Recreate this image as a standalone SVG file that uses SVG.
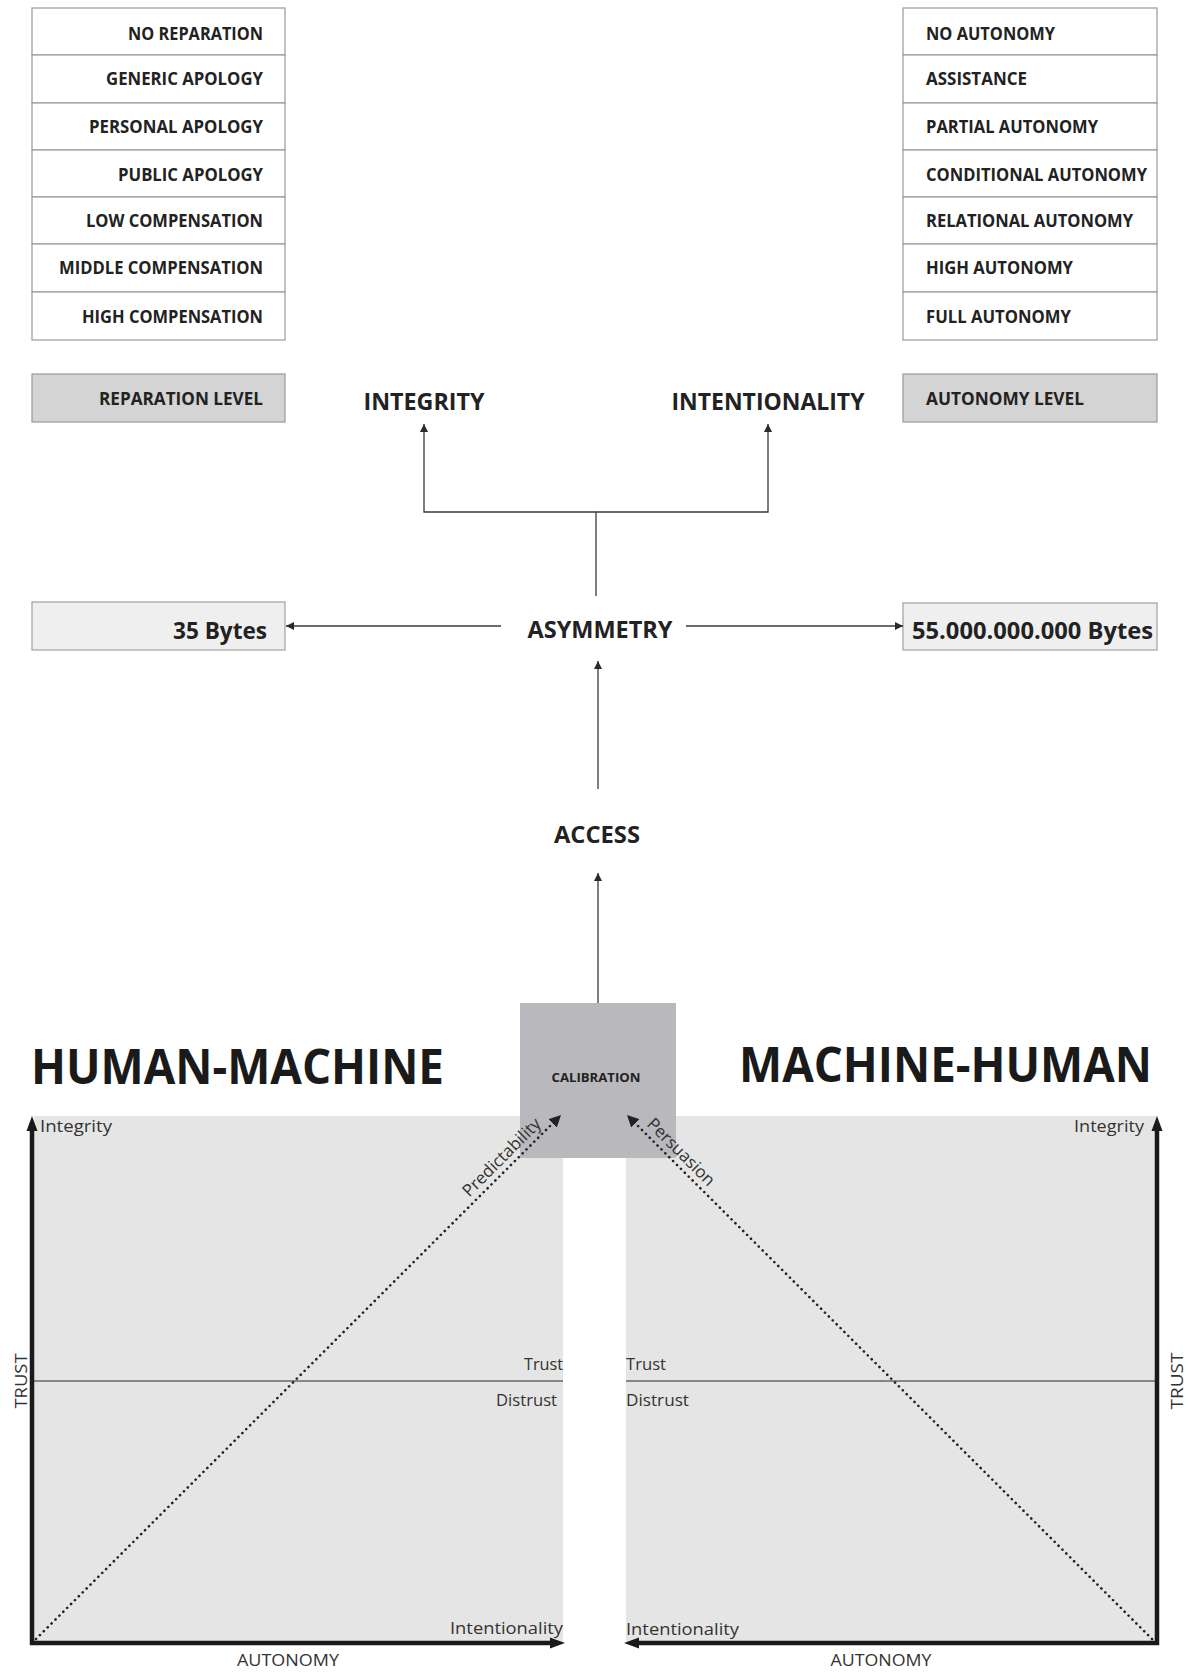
<svg xmlns="http://www.w3.org/2000/svg" width="1192" height="1679" viewBox="0 0 1192 1679">
  <defs>
    <marker id="arr" viewBox="0 0 10 10" refX="10" refY="5" markerWidth="8" markerHeight="8" markerUnits="userSpaceOnUse" orient="auto">
      <path d="M0,0 L10,5 L0,10 z" fill="#2a2a2a"/>
    </marker>
    <marker id="arrDot" viewBox="0 0 10 10" refX="10" refY="5" markerWidth="12" markerHeight="12" markerUnits="userSpaceOnUse" orient="auto">
      <path d="M0,0 L10,5 L0,10 z" fill="#222"/>
    </marker>
  </defs>
  <style>
    text { font-family: "Open Sans", "Liberation Sans", sans-serif; fill: #222; }
    .cell { fill: #ffffff; stroke: #9a9a9a; stroke-width: 1.2; }
    .head { fill: #d4d4d4; stroke: #9a9a9a; stroke-width: 1.2; }
    .bytes { fill: #efefef; stroke: #a0a0a0; stroke-width: 1.2; }
    .row { font-size: 17px; font-weight: 700; }
    .title { font-size: 23px; font-weight: 700; }
    .big { font-size: 49px; font-weight: 700; fill: #1a1a1a; }
    .lbl { font-size: 17px; font-weight: 400; fill: #333; }
    .conn { stroke: #3a3a3a; stroke-width: 1.3; fill: none; }
    .axis { stroke: #1a1a1a; stroke-width: 4.5; fill: none; }
    .dots { stroke: #222; stroke-width: 2.6; stroke-dasharray: 0.1 5.4; stroke-linecap: round; fill: none; }
    .split { stroke: #666; stroke-width: 1.5; }
    .plane { fill: #e5e5e5; }
  </style>

  <!-- reparation scale -->
  <g id="reparation-scale">
    <rect class="cell" x="32" y="8" width="253" height="47"/>
    <rect class="cell" x="32" y="55" width="253" height="48"/>
    <rect class="cell" x="32" y="103" width="253" height="47"/>
    <rect class="cell" x="32" y="150" width="253" height="47"/>
    <rect class="cell" x="32" y="197" width="253" height="47"/>
    <rect class="cell" x="32" y="244" width="253" height="48"/>
    <rect class="cell" x="32" y="292" width="253" height="48"/>
    <text class="row" x="263" y="40" text-anchor="end" textLength="135" lengthAdjust="spacingAndGlyphs">NO REPARATION</text>
    <text class="row" x="263" y="85" text-anchor="end" textLength="157" lengthAdjust="spacingAndGlyphs">GENERIC APOLOGY</text>
    <text class="row" x="263" y="133" text-anchor="end" textLength="174" lengthAdjust="spacingAndGlyphs">PERSONAL APOLOGY</text>
    <text class="row" x="263" y="181" text-anchor="end" textLength="145" lengthAdjust="spacingAndGlyphs">PUBLIC APOLOGY</text>
    <text class="row" x="263" y="227" text-anchor="end" textLength="177" lengthAdjust="spacingAndGlyphs">LOW COMPENSATION</text>
    <text class="row" x="263" y="274" text-anchor="end" textLength="204" lengthAdjust="spacingAndGlyphs">MIDDLE COMPENSATION</text>
    <text class="row" x="263" y="323" text-anchor="end" textLength="181" lengthAdjust="spacingAndGlyphs">HIGH COMPENSATION</text>
  </g>
  <g id="reparation-level">
    <rect class="head" x="32" y="374" width="253" height="48"/>
    <text class="row" x="263" y="405" text-anchor="end" textLength="164" lengthAdjust="spacingAndGlyphs">REPARATION LEVEL</text>
  </g>

  <!-- autonomy scale -->
  <g id="autonomy-scale">
    <rect class="cell" x="903" y="8" width="254" height="47"/>
    <rect class="cell" x="903" y="55" width="254" height="48"/>
    <rect class="cell" x="903" y="103" width="254" height="47"/>
    <rect class="cell" x="903" y="150" width="254" height="47"/>
    <rect class="cell" x="903" y="197" width="254" height="47"/>
    <rect class="cell" x="903" y="244" width="254" height="48"/>
    <rect class="cell" x="903" y="292" width="254" height="48"/>
    <text class="row" x="926" y="40" textLength="129" lengthAdjust="spacingAndGlyphs">NO AUTONOMY</text>
    <text class="row" x="926" y="85" textLength="101" lengthAdjust="spacingAndGlyphs">ASSISTANCE</text>
    <text class="row" x="926" y="133" textLength="172" lengthAdjust="spacingAndGlyphs">PARTIAL AUTONOMY</text>
    <text class="row" x="926" y="181" textLength="221" lengthAdjust="spacingAndGlyphs">CONDITIONAL AUTONOMY</text>
    <text class="row" x="926" y="227" textLength="207" lengthAdjust="spacingAndGlyphs">RELATIONAL AUTONOMY</text>
    <text class="row" x="926" y="274" textLength="147" lengthAdjust="spacingAndGlyphs">HIGH AUTONOMY</text>
    <text class="row" x="926" y="323" textLength="145" lengthAdjust="spacingAndGlyphs">FULL AUTONOMY</text>
  </g>
  <g id="autonomy-level">
    <rect class="head" x="903" y="374" width="254" height="48"/>
    <text class="row" x="926" y="405" textLength="158" lengthAdjust="spacingAndGlyphs">AUTONOMY LEVEL</text>
  </g>

  <g id="integrity">
    <text class="title" x="424" y="410" text-anchor="middle" textLength="121" lengthAdjust="spacingAndGlyphs">INTEGRITY</text>
  </g>
  <g id="intentionality">
    <text class="title" x="768" y="410" text-anchor="middle" textLength="193" lengthAdjust="spacingAndGlyphs">INTENTIONALITY</text>
  </g>

  <g id="asymmetry">
    <text class="title" x="600" y="638" text-anchor="middle" textLength="145" lengthAdjust="spacingAndGlyphs">ASYMMETRY</text>
  </g>
  <g id="bytes-human">
    <rect class="bytes" x="32" y="602" width="253" height="48"/>
    <text class="title" x="267" y="639" text-anchor="end" textLength="94" lengthAdjust="spacingAndGlyphs">35 Bytes</text>
  </g>
  <g id="bytes-machine">
    <rect class="bytes" x="903" y="603" width="254" height="47"/>
    <text class="title" x="912" y="639" textLength="241" lengthAdjust="spacingAndGlyphs">55.000.000.000 Bytes</text>
  </g>

  <g id="access">
    <text class="title" x="597" y="843" text-anchor="middle" textLength="86" lengthAdjust="spacingAndGlyphs">ACCESS</text>
  </g>

  <!-- trust planes -->
  <g id="human-machine">
    <text class="big" x="31" y="1084" textLength="413" lengthAdjust="spacingAndGlyphs">HUMAN-MACHINE</text>
    <rect class="plane" x="34" y="1116" width="529" height="526"/>
    <line class="split" x1="34" y1="1381" x2="563" y2="1381"/>
    <text class="lbl" x="40" y="1132" textLength="72" lengthAdjust="spacingAndGlyphs">Integrity</text>
    <text class="lbl" x="563" y="1370" text-anchor="end" textLength="39" lengthAdjust="spacingAndGlyphs">Trust</text>
    <text class="lbl" x="557" y="1406" text-anchor="end" textLength="61" lengthAdjust="spacingAndGlyphs">Distrust</text>
    <text class="lbl" x="563" y="1634" text-anchor="end" textLength="113" lengthAdjust="spacingAndGlyphs">Intentionality</text>
    <text class="lbl" x="288" y="1666" text-anchor="middle" textLength="102" lengthAdjust="spacingAndGlyphs">AUTONOMY</text>
    <text class="lbl" transform="translate(27,1381) rotate(-90)" text-anchor="middle" textLength="55" lengthAdjust="spacingAndGlyphs">TRUST</text>
    <line class="axis" x1="32" y1="1645" x2="32" y2="1129"/>
    <path d="M32,1116 L26.5,1131 L37.5,1131 z" fill="#1a1a1a"/>
    <line class="axis" x1="30" y1="1643" x2="552" y2="1643"/>
    <path d="M565,1643 L550,1637.5 L550,1648.5 z" fill="#1a1a1a"/>
  </g>

  <g id="machine-human">
    <text class="big" x="739" y="1082" textLength="413" lengthAdjust="spacingAndGlyphs">MACHINE-HUMAN</text>
    <rect class="plane" x="626" y="1116" width="531" height="526"/>
    <line class="split" x1="626" y1="1381" x2="1157" y2="1381"/>
    <text class="lbl" x="1144" y="1132" text-anchor="end" textLength="70" lengthAdjust="spacingAndGlyphs">Integrity</text>
    <text class="lbl" x="626" y="1370" textLength="40" lengthAdjust="spacingAndGlyphs">Trust</text>
    <text class="lbl" x="626" y="1406" textLength="63" lengthAdjust="spacingAndGlyphs">Distrust</text>
    <text class="lbl" x="626" y="1635" textLength="113" lengthAdjust="spacingAndGlyphs">Intentionality</text>
    <text class="lbl" x="881" y="1666" text-anchor="middle" textLength="101" lengthAdjust="spacingAndGlyphs">AUTONOMY</text>
    <text class="lbl" transform="translate(1183,1381) rotate(-90)" text-anchor="middle" textLength="57" lengthAdjust="spacingAndGlyphs">TRUST</text>
    <line class="axis" x1="1157" y1="1645" x2="1157" y2="1129"/>
    <path d="M1157,1116 L1151.5,1131 L1162.5,1131 z" fill="#1a1a1a"/>
    <line class="axis" x1="1159" y1="1643" x2="637" y2="1643"/>
    <path d="M624,1643 L639,1637.5 L639,1648.5 z" fill="#1a1a1a"/>
  </g>

  <g id="calibration">
    <rect x="520" y="1003" width="156" height="155" fill="#b9b8bc"/>
    <text x="596" y="1082" text-anchor="middle" font-size="13" font-weight="700" fill="#333" textLength="89" lengthAdjust="spacingAndGlyphs">CALIBRATION</text>
  </g>

  <!-- connectors -->
  <g id="connectors">
    <polyline class="conn" points="596,596 596,512 424,512 424,424" marker-end="url(#arr)"/>
    <polyline class="conn" points="596,512 768,512 768,424" marker-end="url(#arr)"/>
    <line class="conn" x1="501" y1="626" x2="286" y2="626" marker-end="url(#arr)"/>
    <line class="conn" x1="686" y1="626" x2="903" y2="626" marker-end="url(#arr)"/>
    <line class="conn" x1="598" y1="789" x2="598" y2="661" marker-end="url(#arr)"/>
    <line class="conn" x1="598" y1="1003" x2="598" y2="873" marker-end="url(#arr)"/>
    <line class="dots" x1="36" y1="1639" x2="561" y2="1115" marker-end="url(#arrDot)"/>
    <line class="dots" x1="1152" y1="1639" x2="627" y2="1115" marker-end="url(#arrDot)"/>
    <text class="lbl" transform="translate(542,1125) rotate(-45)" text-anchor="end" font-size="18">Predictability</text>
    <text class="lbl" transform="translate(646,1125) rotate(45)" font-size="18">Persuasion</text>
  </g>
</svg>
